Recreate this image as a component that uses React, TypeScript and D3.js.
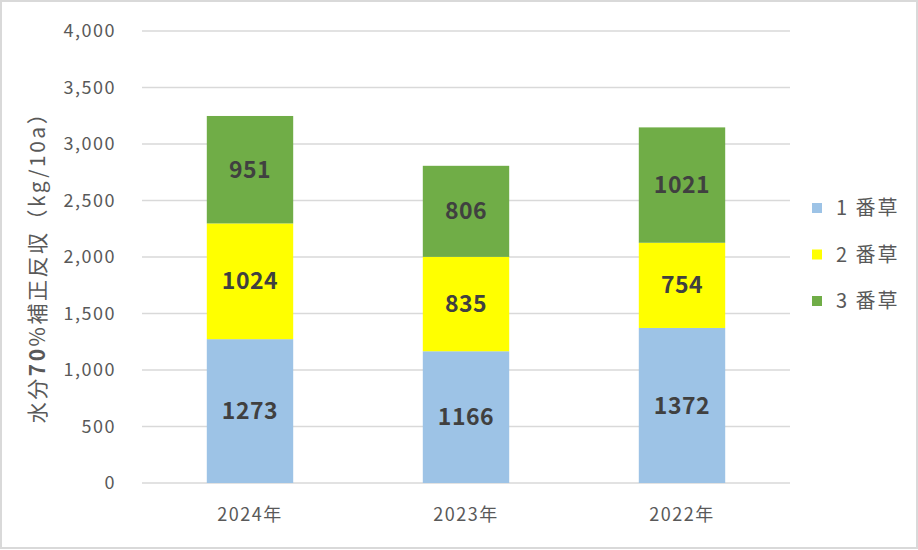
import React from "react";
import * as d3 from "d3";

const categories = ["2024年", "2023年", "2022年"];
const seriesNames = ["1 番草", "2 番草", "3 番草"];
const cut1 = [1273, 1166, 1372];
const cut2 = [1024, 835, 754];
const cut3 = [951, 806, 1021];
const yTicks = [0, 500, 1000, 1500, 2000, 2500, 3000, 3500, 4000];
const colors = ["#9DC3E6", "#FFFF00", "#70AD47"];

export default function App() {
  const W = 918, H = 550;
  const left = 142, right = 790, top = 31, bottom = 483;
  const x = d3.scaleBand<string>().domain(categories).range([left, right]).paddingInner(0.6).paddingOuter(0.3);
  const y = d3.scaleLinear().domain([0, 4000]).range([bottom, top]);
  const rows = categories.map((c, i) => ({ cat: c, s0: cut1[i], s1: cut2[i], s2: cut3[i] }));
  const stacked = d3.stack<any>().keys(["s0", "s1", "s2"])(rows);
  const font = "'Noto Sans CJK JP', 'Noto Sans', sans-serif";
  const fmt = d3.format(",");
  return (
    <svg width={W} height={H} style={{ display: "block", position: "absolute", left: 0, top: 0 }} fontFamily={font}>
      <rect x={1} y={1} width={W - 2} height={H - 3} fill="#fff" stroke="#d9d9d9" strokeWidth={2} />
      {yTicks.map((t) => (
        <g key={t}>
          <line x1={left} x2={right} y1={y(t)} y2={y(t)} stroke="#d9d9d9" strokeWidth={1.5} />
          <text x={116} y={y(t)} dy="0.35em" textAnchor="end" fontSize={18} letterSpacing={1.5} fill="#595959">{fmt(t)}</text>
        </g>
      ))}
      {stacked.map((layer, li) =>
        layer.map((d, i) => {
          const x0 = x(categories[i])!;
          const y0 = y(d[1]);
          const h = y(d[0]) - y(d[1]);
          const val = d[1] - d[0];
          return (
            <g key={li + "-" + i}>
              <rect x={x0} y={y0} width={x.bandwidth()} height={h} fill={colors[li]} />
              <text x={x0 + x.bandwidth() / 2} y={y0 + h / 2} dy="0.35em" textAnchor="middle" fontSize={23} fontWeight="bold" letterSpacing={0.5} fill="#404040">{val}</text>
            </g>
          );
        })
      )}
      {categories.map((c) => (
        <text key={c} x={x(c)! + x.bandwidth() / 2} y={521} textAnchor="middle" fontSize={18} letterSpacing={1.5} fill="#595959">{c}</text>
      ))}
      <text transform={`translate(38, 262) rotate(-90)`} textAnchor="middle" dy="0.35em" fontSize={21} letterSpacing={2.5} fill="#595959">
        水分<tspan fontWeight="bold">70</tspan>%補正反収（kg/10a）
      </text>
      {seriesNames.map((s, i) => (
        <g key={s}>
          <rect x={812} y={203 + i * 46.5} width={10} height={10} fill={colors[i]} />
          <text x={836} y={208 + i * 46.5} dy="0.35em" fontSize={20} letterSpacing={2} fill="#595959">{s}</text>
        </g>
      ))}
    </svg>
  );
}
